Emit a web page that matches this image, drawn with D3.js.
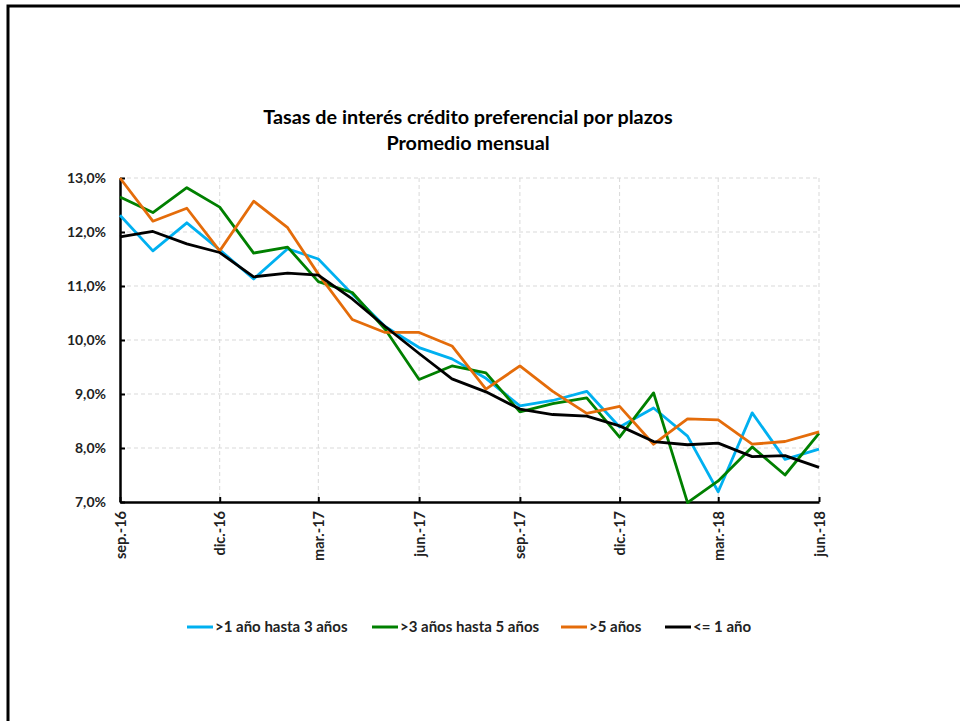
<!DOCTYPE html>
<html>
<head>
<meta charset="utf-8">
<script src="https://cdn.jsdelivr.net/npm/d3@7"></script>
<style>
  body { margin: 0; background: #fff; }
  svg { display: block; font-family: Lato, "Open Sans", sans-serif; }
</style>
</head>
<body>
<div id="chart"></div>
<script>
// months sep-16 .. jun-18 (first day of each month)
const months = ["2016-09", "2016-10", "2016-11", "2016-12", "2017-01", "2017-02", "2017-03", "2017-04",
    "2017-05", "2017-06", "2017-07", "2017-08", "2017-09", "2017-10", "2017-11", "2017-12",
    "2018-01", "2018-02", "2018-03", "2018-04", "2018-05", "2018-06"];

const blue = [12.31, 11.65, 12.17, 11.67, 11.13, 11.69, 11.50, 10.85, 10.25, 9.86, 9.65, 9.29,
    8.78, 8.88, 9.05, 8.39, 8.74, 8.22, 7.19, 8.65, 7.79, 7.98];
const green = [12.65, 12.36, 12.82, 12.46, 11.61, 11.72, 11.08, 10.88, 10.20, 9.27, 9.52, 9.39,
    8.67, 8.82, 8.93, 8.20, 9.02, 6.99, 7.39, 8.02, 7.50, 8.27];
const orange = [13.00, 12.20, 12.44, 11.65, 12.57, 12.08, 11.22, 10.38, 10.14, 10.14, 9.89, 9.09,
    9.52, 9.05, 8.64, 8.77, 8.07, 8.54, 8.52, 8.07, 8.12, 8.30];
const black = [11.91, 12.01, 11.78, 11.62, 11.17, 11.24, 11.20, 10.76, 10.25, 9.75, 9.28, 9.04,
    8.72, 8.62, 8.59, 8.41, 8.12, 8.06, 8.09, 7.84, 7.86, 7.64];

const seriesNames = [">1 año hasta 3 años", ">3 años hasta 5 años", ">5 años", "<= 1 año"];
const seriesColors = ["#00b0f0", "#008000", "#e46c0a", "#000000"];
const seriesValues = [blue, green, orange, black];

const tickMonths = ["2016-09", "2016-12", "2017-03", "2017-06", "2017-09", "2017-12", "2018-03", "2018-06"];
const tickLabels = ["sep.-16", "dic.-16", "mar.-17", "jun.-17", "sep.-17", "dic.-17", "mar.-18", "jun.-18"];
const yTicks = [7, 8, 9, 10, 11, 12, 13];

const width = 960, height = 721;
const parse = d3.timeParse("%Y-%m");
const dates = months.map(parse);

const svg = d3.select("#chart").append("svg")
    .attr("width", width)
    .attr("height", height);

// chart frame (runs off the right/bottom edge)
svg.append("rect")
    .attr("x", 8).attr("y", 6)
    .attr("width", 980).attr("height", 760)
    .attr("fill", "#fff")
    .attr("stroke", "#000")
    .attr("stroke-width", 3);

const x = d3.scaleTime()
    .domain([dates[0], dates[dates.length - 1]])
    .range([120, 819]);
const y = d3.scaleLinear()
    .domain([7, 13])
    .range([502, 178]);

// title
svg.append("text")
    .attr("x", 468).attr("y", 124)
    .attr("text-anchor", "middle")
    .attr("font-size", 19.8).attr("font-weight", "bold")
    .text("Tasas de interés crédito preferencial por plazos");
svg.append("text")
    .attr("x", 468).attr("y", 150)
    .attr("text-anchor", "middle")
    .attr("font-size", 19.8).attr("font-weight", "bold")
    .text("Promedio mensual");

// grid
const grid = svg.append("g")
    .attr("stroke", "#d9d9d9")
    .attr("stroke-width", 1)
    .attr("stroke-dasharray", "4,3");
grid.selectAll("line.h")
    .data(yTicks.slice(1))
    .join("line")
    .attr("class", "h")
    .attr("x1", 120).attr("x2", 819)
    .attr("y1", d => y(d)).attr("y2", d => y(d));
grid.selectAll("line.v")
    .data(tickMonths.slice(1).map(parse))
    .join("line")
    .attr("class", "v")
    .attr("x1", d => x(d)).attr("x2", d => x(d))
    .attr("y1", 178).attr("y2", 502);

// axes
const yAxis = svg.append("g")
    .attr("transform", "translate(120,0)")
    .call(d3.axisLeft(y).tickValues(yTicks).tickSizeInner(-5).tickSizeOuter(0)
        .tickFormat(d => d3.format(".1f")(d).replace(".", ",") + "%"));
yAxis.select(".domain").attr("stroke-width", 2.5);
yAxis.selectAll(".tick line").attr("stroke-width", 2);
yAxis.selectAll(".tick text")
    .attr("x", -14)
    .attr("font-size", 14).attr("font-weight", "bold")
    .attr("font-family", "Lato, sans-serif")
    .attr("fill", "#222");

const xAxis = svg.append("g")
    .attr("transform", "translate(0,502)")
    .call(d3.axisBottom(x).tickValues(tickMonths.map(parse)).tickSizeInner(-5).tickSizeOuter(0)
        .tickFormat((d, i) => tickLabels[i]));
xAxis.select(".domain").attr("stroke-width", 2.5);
xAxis.selectAll(".tick line").attr("stroke-width", 2);
xAxis.selectAll(".tick text")
    .attr("transform", "rotate(-90)")
    .attr("x", -9).attr("y", 0).attr("dy", "0.35em")
    .attr("text-anchor", "end")
    .attr("font-size", 14.5).attr("font-weight", "bold")
    .attr("font-family", "Lato, sans-serif")
    .attr("fill", "#222");

// lines
const line = d3.line()
    .x((d, i) => x(dates[i]))
    .y(d => y(d));

svg.append("g")
    .selectAll("path")
    .data(seriesValues)
    .join("path")
    .attr("fill", "none")
    .attr("stroke", (d, i) => seriesColors[i])
    .attr("stroke-width", 2.8)
    .attr("stroke-linejoin", "round")
    .attr("d", line);

// legend
const legendX = [187, 372, 561, 665];
const legend = svg.append("g")
    .selectAll("g")
    .data(seriesNames)
    .join("g")
    .attr("transform", (d, i) => `translate(${legendX[i]},627)`);
legend.append("line")
    .attr("x1", 0).attr("x2", 26)
    .attr("stroke", (d, i) => seriesColors[i])
    .attr("stroke-width", 3);
legend.append("text")
    .attr("x", 28).attr("dy", "0.35em")
    .attr("font-size", 15).attr("font-weight", "bold")
    .attr("fill", "#222")
    .text(d => d);
</script>
</body>
</html>
